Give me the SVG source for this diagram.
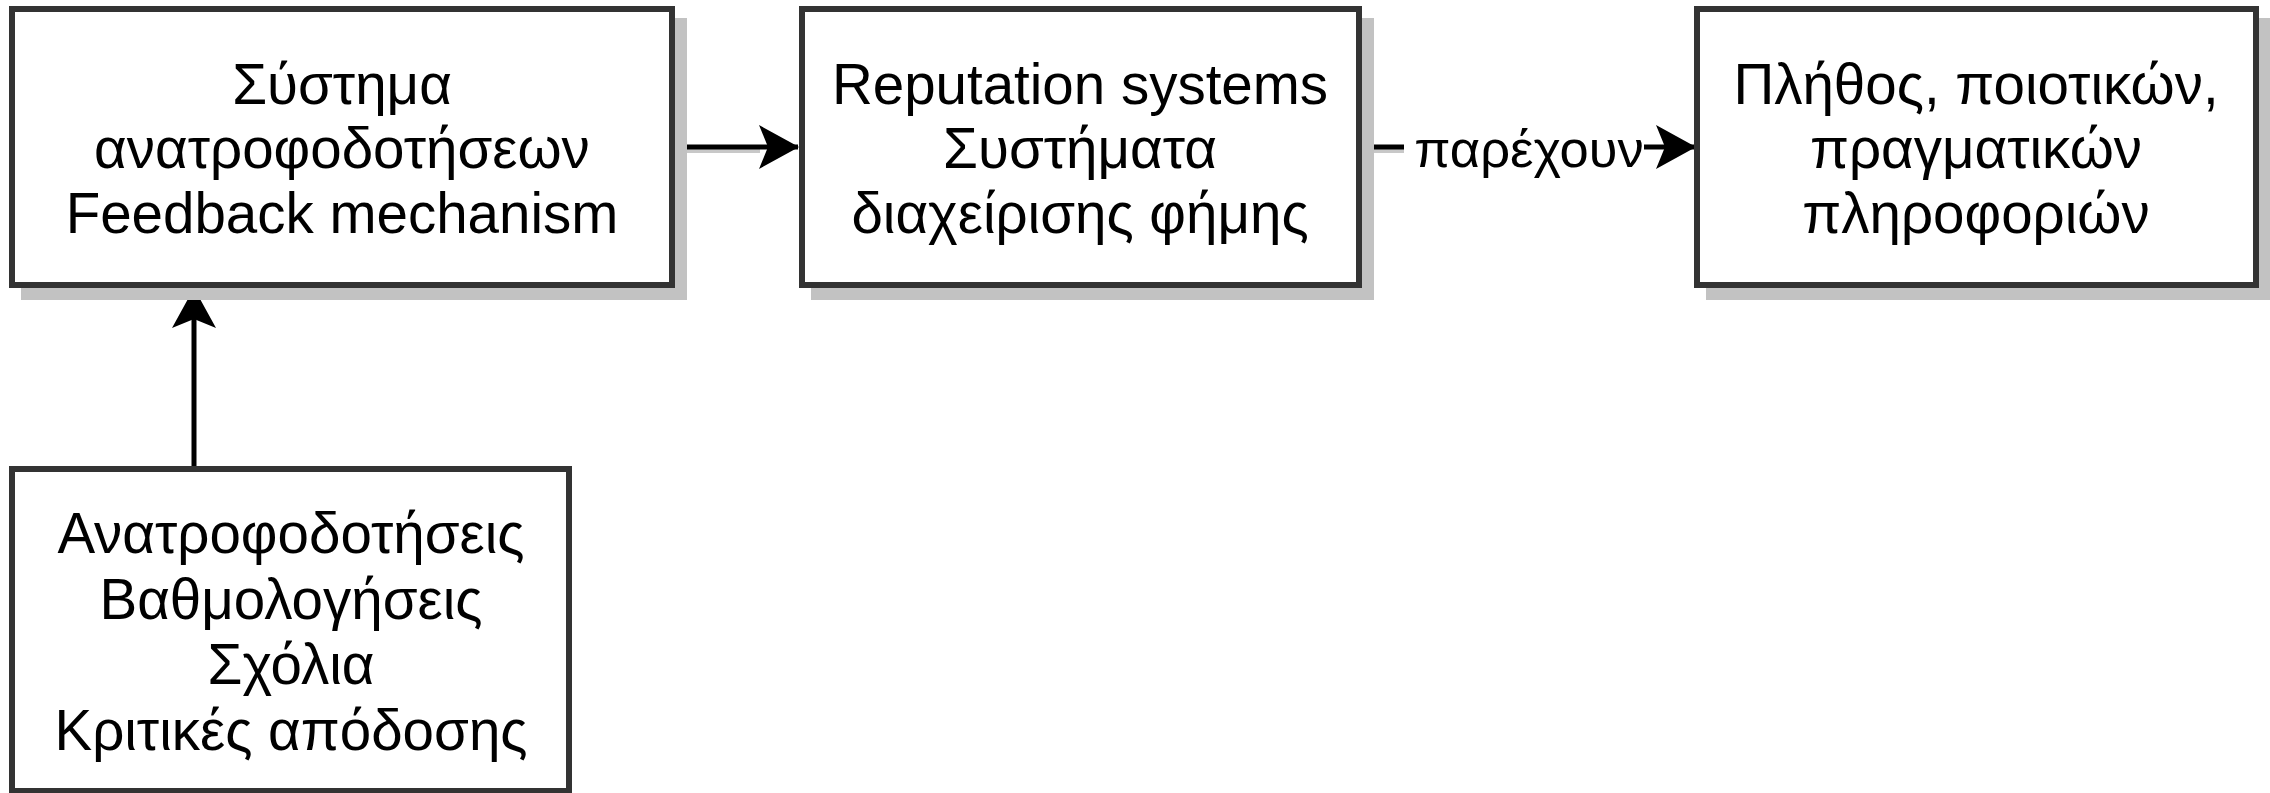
<svg xmlns="http://www.w3.org/2000/svg" width="2270" height="793" viewBox="0 0 2270 793">
  <style>
    .box { fill: #ffffff; stroke: #333333; stroke-width: 6; }
    .shadow { fill: #c2c2c2; }
    .label { font-family: "Liberation Sans", Arial, sans-serif; font-size: 56.5px; fill: #000000; text-anchor: middle; }
    .edge-label { font-size: 52.5px; }
    .edge { stroke: #000000; stroke-width: 5; fill: none; }
    .edge-shadow { stroke: #c8c8c8; stroke-width: 4; fill: none; }
  </style>
  <defs>
    <marker id="arrow" markerUnits="userSpaceOnUse" markerWidth="40" markerHeight="44" viewBox="0 0 40 44" refX="39" refY="22" orient="auto">
      <path d="M0,0 L40,22 L0,44 L9,22 Z" fill="#000000"/>
    </marker>
  </defs>
  <rect width="2270" height="793" fill="#ffffff"/>

  <g id="connectors">
    <line class="edge-shadow" x1="674" y1="151" x2="760" y2="151"/>
    <line class="edge-shadow" x1="1362" y1="151" x2="1404" y2="151"/>
    <line class="edge" x1="194" y1="466" x2="194" y2="289" marker-end="url(#arrow)"/>
    <line class="edge" x1="674" y1="147" x2="798" y2="147" marker-end="url(#arrow)"/>
    <line class="edge" x1="1362" y1="147" x2="1695" y2="147" marker-end="url(#arrow)"/>
    <rect x="1404" y="120" width="240" height="62" fill="#ffffff"/>
    <text class="label edge-label" x="1529" y="167">παρέχουν</text>
  </g>

  <g id="node-feedback-system">
    <rect class="shadow" x="21" y="18" width="666" height="282"/>
    <rect class="box" x="12" y="9" width="660" height="276"/>
    <text class="label" x="342" y="104">Σύστημα</text>
    <text class="label" x="342" y="168">ανατροφοδοτήσεων</text>
    <text class="label" x="342" y="233">Feedback mechanism</text>
  </g>

  <g id="node-reputation-systems">
    <rect class="shadow" x="811" y="18" width="563" height="282"/>
    <rect class="box" x="802" y="9" width="557" height="276"/>
    <text class="label" x="1080" y="104">Reputation systems</text>
    <text class="label" x="1080" y="168">Συστήματα</text>
    <text class="label" x="1080" y="233">διαχείρισης φήμης</text>
  </g>

  <g id="node-information">
    <rect class="shadow" x="1706" y="18" width="565" height="282"/>
    <rect class="box" x="1697" y="9" width="559" height="276"/>
    <text class="label" x="1976" y="104">Πλήθος, ποιοτικών,</text>
    <text class="label" x="1976" y="168">πραγματικών</text>
    <text class="label" x="1976" y="233">πληροφοριών</text>
  </g>

  <g id="node-feedback-items">
    <rect class="box" x="12" y="469" width="557" height="322"/>
    <text class="label" x="291" y="553">Ανατροφοδοτήσεις</text>
    <text class="label" x="291" y="619">Βαθμολογήσεις</text>
    <text class="label" x="291" y="684">Σχόλια</text>
    <text class="label" x="291" y="750">Κριτικές απόδοσης</text>
  </g>
</svg>
